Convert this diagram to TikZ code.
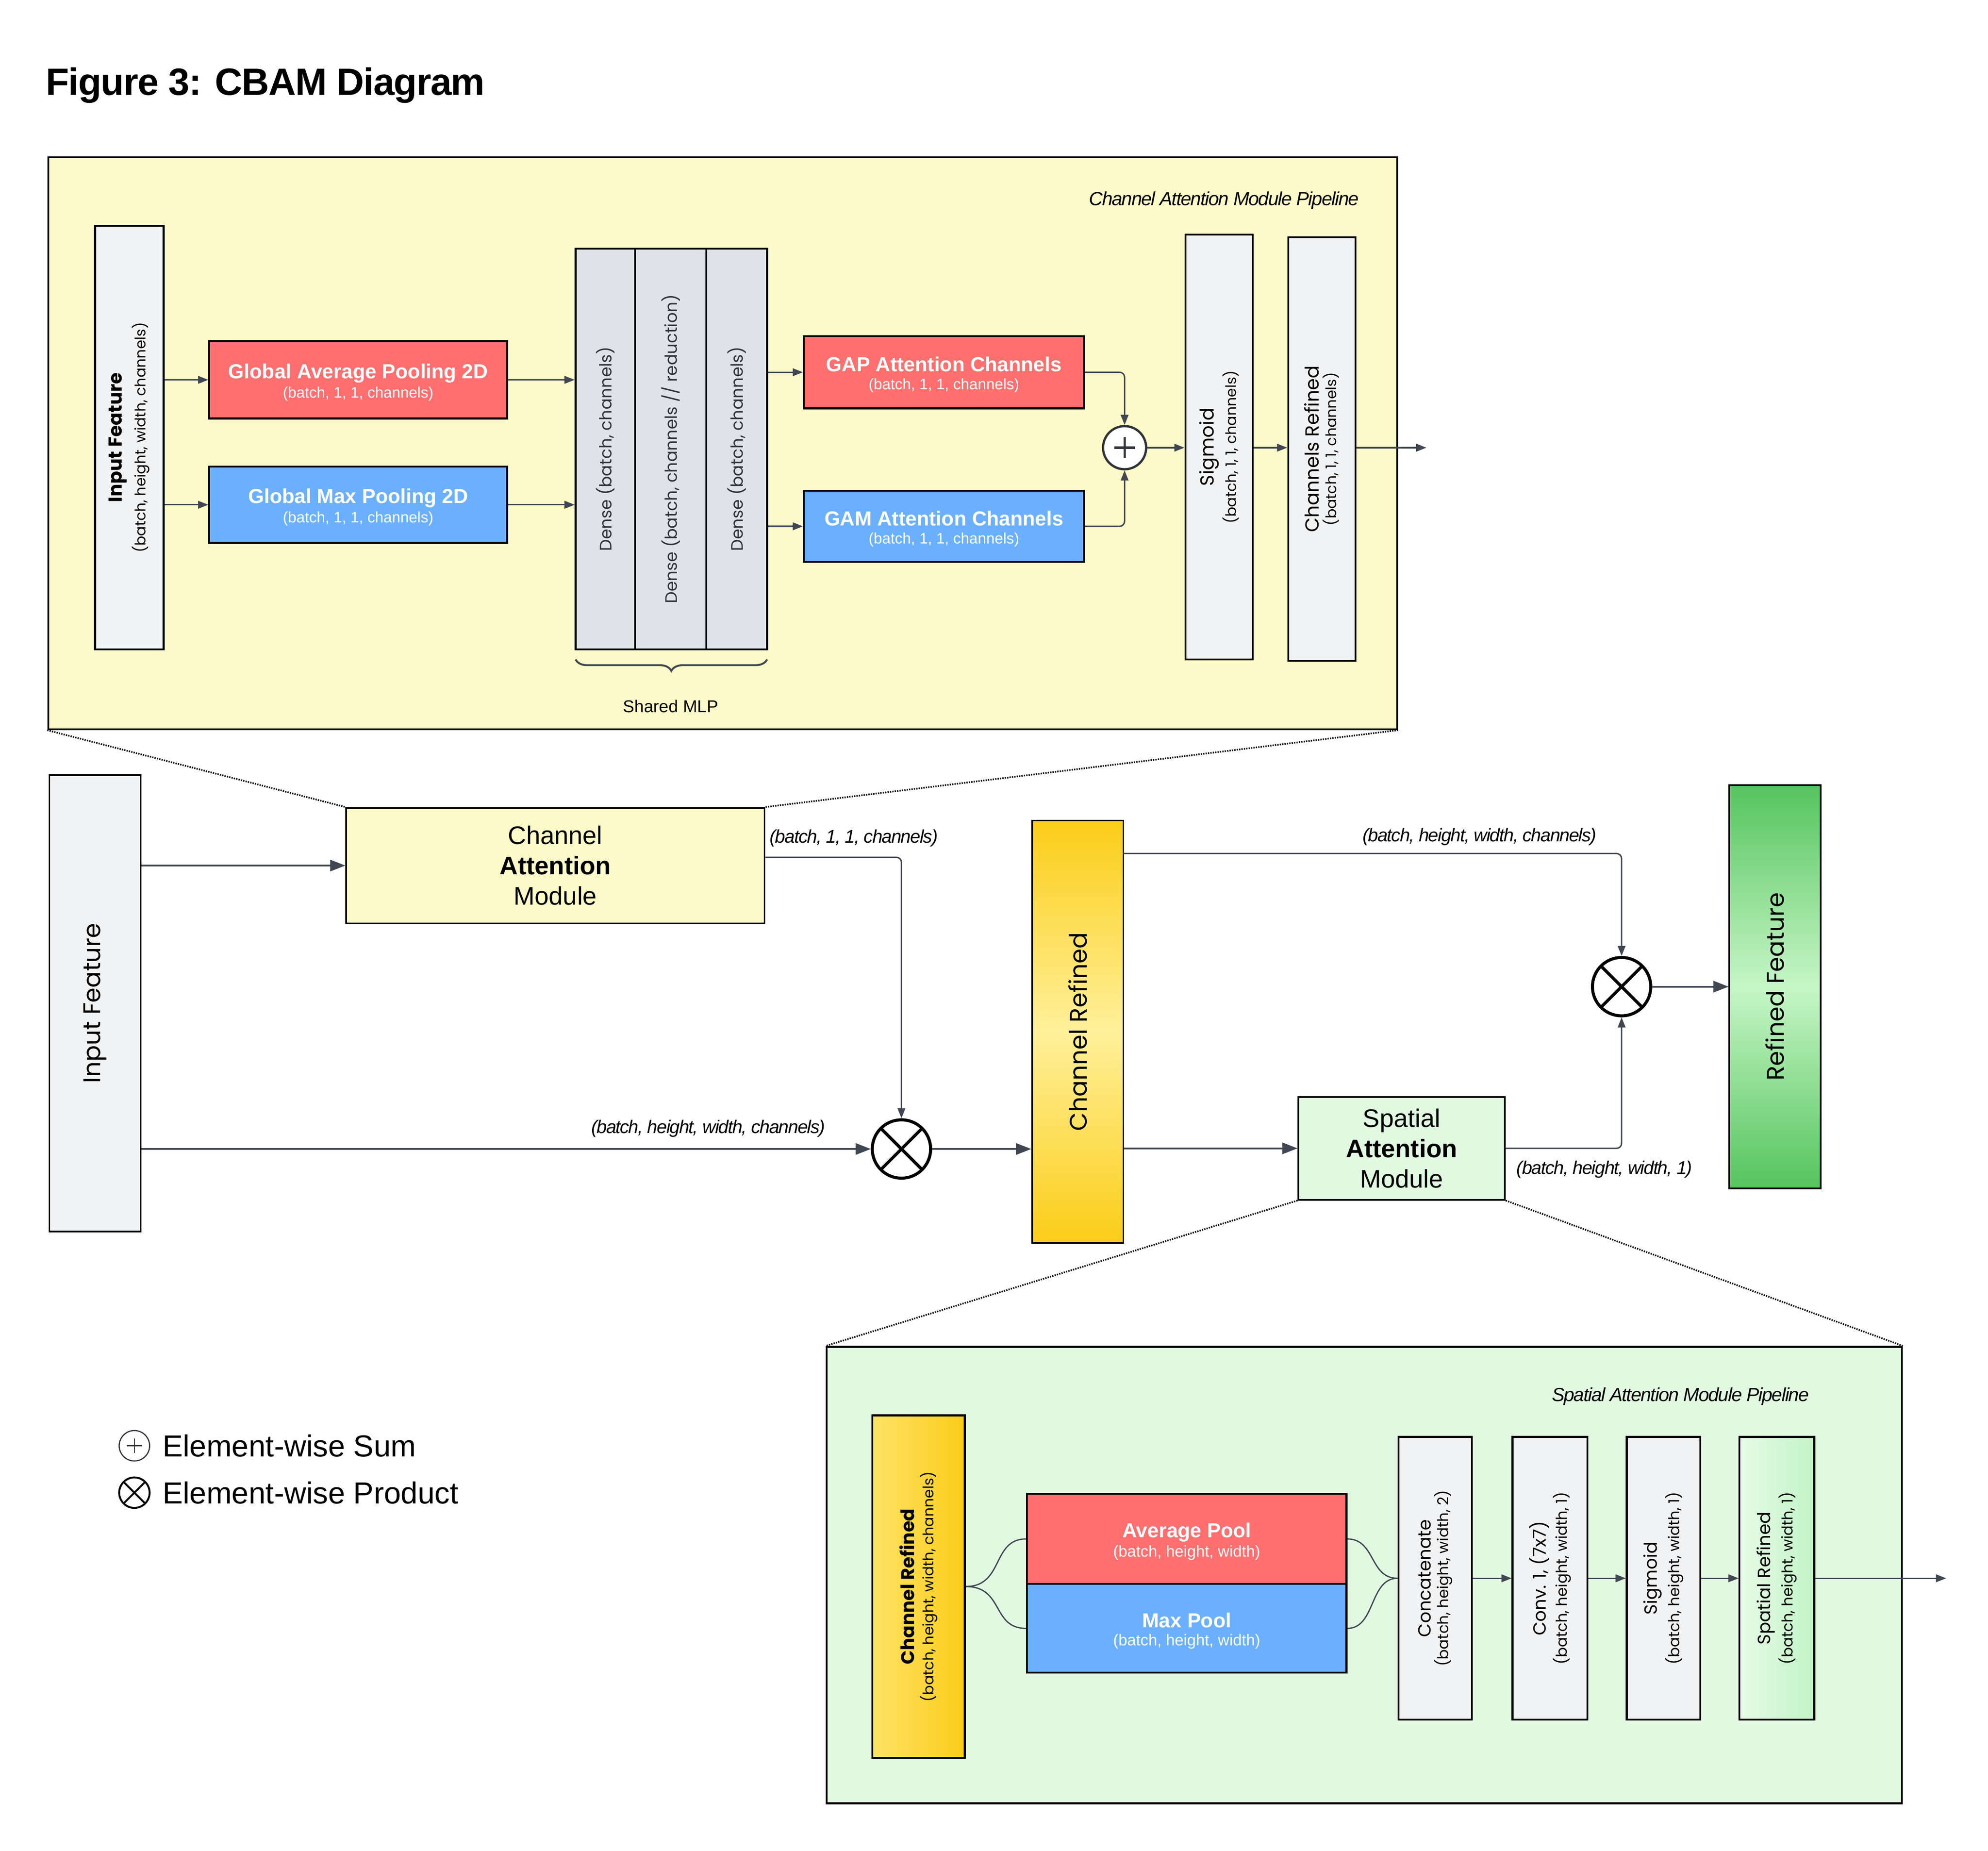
\documentclass[tikz,border=0pt]{standalone}
\usepackage{fontspec}
\setmainfont{Liberation Sans}
\newfontfamily\wf{Poppins}
\usetikzlibrary{arrows.meta,decorations.pathreplacing,calc}
\definecolor{ylw}{HTML}{FBFAC8}
\definecolor{grn}{HTML}{E2F9E1}
\definecolor{lgr}{HTML}{F1F2F4}
\definecolor{dgr}{HTML}{DFE2E7}
\definecolor{rd}{HTML}{FF6F6F}
\definecolor{bl}{HTML}{6BB0FF}
\definecolor{lncol}{HTML}{404652}
\definecolor{pluscol}{HTML}{2F333A}
\definecolor{gold}{HTML}{FBCD18}
\definecolor{goldl}{HTML}{FFF09A}
\definecolor{gdk}{HTML}{55C45E}
\definecolor{glt}{HTML}{C6F6C6}
\definecolor{srl}{HTML}{E6FBE6}
\definecolor{srr}{HTML}{C2F4C6}
\newcommand\fsz[2]{\fontsize{#1}{#2}\selectfont}
\newcommand\tight[1]{\addfontfeature{LetterSpace=#1}}
\begin{document}
\begin{tikzpicture}[x=1pt,y=-1pt,
  box/.style={draw=black, line width=1.5pt, inner sep=0pt},
  arr/.style={draw=lncol, line width=1.1pt, -{Triangle[length=8pt,width=6pt]}},
  arrb/.style={draw=lncol, line width=1.3pt, -{Triangle[length=12pt,width=9pt]}},
  dotl/.style={line width=1.3pt, dash pattern=on 1pt off 0.9pt},
  txt/.style={inner sep=0pt, align=center},
  ctxt/.style={txt, text=white, yshift=-2pt},
  vtxt/.style={txt, rotate=90},
  otim/.style 2 args={circle, draw=black, line width=#2, fill=white, minimum size=#1, inner sep=0pt,
    path picture={\draw[line width=#2] (path picture bounding box.north west) -- (path picture bounding box.south east)
      (path picture bounding box.north east) -- (path picture bounding box.south west);}},
  oplus/.style 2 args={circle, draw=pluscol, line width=#2, fill=white, minimum size=#1, inner sep=0pt,
    path picture={\draw[line width=#2] ([xshift=-0.24*#1]path picture bounding box.center) -- ([xshift=0.24*#1]path picture bounding box.center)
      ([yshift=-0.24*#1]path picture bounding box.center) -- ([yshift=0.24*#1]path picture bounding box.center);}},
  lab/.style={inner sep=0pt, font=\fsz{14.5}{17}\itshape\tight{-4}}
]
\useasboundingbox (0,0) rectangle (1568,1459.5);

% title
\node[anchor=base west, inner sep=0pt, font=\fsz{30}{34}\bfseries\tight{-1.8}] (title) at (36,75) {Figure 3: CBAM Diagram};

% ================= channel attention pipeline =================
\node[box, fill=ylw, minimum width=1064, minimum height=451] (cambox) at (570,349.5) {};
\node[anchor=east, inner sep=0pt, font=\fsz{15}{17}\itshape\tight{-4}] (camtitle) at (1072,158) {Channel Attention Module Pipeline};

\node[box, fill=lgr, minimum width=54, minimum height=334] (inF) at (102,345) {};
\node[vtxt] (inFt) at (inF.center) {{\wf\fsz{14.8}{17}\bfseries Input Feature}\\[3pt]{\wf\fsz{11.5}{13}(batch, height, width, channels)}};

\node[box, fill=rd, minimum width=235, minimum height=61] (gap) at (282.5,299.5) {};
\node[ctxt] (gapt) at (gap.center) {{\fsz{16}{18}\bfseries Global Average Pooling 2D}\\[2pt]{\fsz{12}{14}(batch, 1, 1, channels)}};
\node[box, fill=bl, minimum width=235, minimum height=60] (gmp) at (282.5,398) {};
\node[ctxt] (gmpt) at (gmp.center) {{\fsz{16}{18}\bfseries Global Max Pooling 2D}\\[2pt]{\fsz{12}{14}(batch, 1, 1, channels)}};

\node[box, fill=dgr, minimum width=47, minimum height=316] (d1) at (477.5,354) {};
\node[box, fill=dgr, minimum width=56, minimum height=316] (d2) at (529,354) {};
\node[box, fill=dgr, minimum width=48, minimum height=316] (d3) at (581,354) {};
\node[vtxt, text=pluscol, font=\wf\fsz{13.1}{15}] (d1t) at (d1.center) {Dense (batch, channels)};
\node[vtxt, text=pluscol, font=\wf\fsz{13.1}{15}] (d2t) at (d2.center) {Dense (batch, channels // reduction)};
\node[vtxt, text=pluscol, font=\wf\fsz{13.1}{15}] (d3t) at (d3.center) {Dense (batch, channels)};
\draw[draw=lncol, line width=1.5pt, decorate, decoration={brace, amplitude=9pt}] (605,520) -- (454,520);
\node[inner sep=0pt, font=\fsz{13.5}{16}] (mlp) at (529,557) {Shared MLP};

\node[box, fill=rd, minimum width=221, minimum height=57] (gapa) at (744.5,293.5) {};
\node[ctxt] (gapat) at (gapa.center) {{\fsz{16}{18}\bfseries GAP Attention Channels}\\[2pt]{\fsz{12}{14}(batch, 1, 1, channels)}};
\node[box, fill=bl, minimum width=221, minimum height=56] (gama) at (744.5,415) {};
\node[ctxt] (gamat) at (gama.center) {{\fsz{16}{18}\bfseries GAM Attention Channels}\\[2pt]{\fsz{12}{14}(batch, 1, 1, channels)}};

\node[oplus={34pt}{1.8pt}] (plus) at (887,353) {};

\node[box, fill=lgr, minimum width=53, minimum height=335] (sig) at (961.5,352.5) {};
\node[vtxt] (sigt) at (sig.center) {{\wf\fsz{15}{17}Sigmoid}\\[2pt]{\wf\fsz{11.5}{13}(batch, 1, 1, channels)}};
\node[box, fill=lgr, minimum width=53, minimum height=334] (chr) at (1042.5,354) {};
\node[vtxt] (chrt) at (chr.center) {{\wf\fsz{15}{17}Channels Refined}\\[2pt]{\wf\fsz{11.5}{13}(batch, 1, 1, channels)}};
\coordinate (cout) at (1125,353);

\draw[arr] (inF.east |- gap.west) -- (gap.west);
\draw[arr] (inF.east |- gmp.west) -- (gmp.west);
\draw[arr] (gap.east) -- (d1.west |- gap.east);
\draw[arr] (gmp.east) -- (d1.west |- gmp.east);
\draw[arr] (d3.east |- gapa.west) -- (gapa.west);
\draw[arr] (d3.east |- gama.west) -- (gama.west);
\draw[arr, rounded corners=4pt] (gapa.east) -| (plus.north);
\draw[arr, rounded corners=4pt] (gama.east) -| (plus.south);
\draw[arr] (plus.east) -- (sig.west |- plus.east);
\draw[arr] (sig.east |- cout) -- (chr.west |- cout);
\draw[arr] (chr.east |- cout) -- (cout);

% ================= main flow =================
\node[box, fill=lgr, line width=1.3pt, minimum width=72, minimum height=360] (inp) at (75,791) {};
\node[vtxt, font=\wf\fsz{19}{22}] (inpt) at (inp.center) {Input Feature};

\node[box, fill=ylw, line width=1.3pt, minimum width=330, minimum height=91] (cam) at (438,682.5) {};
\node[txt, font=\fsz{20}{24}] (camt) at (cam.center) {Channel\\\textbf{Attention}\\Module};

\node[otim={46pt}{2.4pt}] (ot1) at (711,906) {};

\node[box, line width=1.3pt, shading=axis, top color=gold, bottom color=gold, middle color=goldl, minimum width=72, minimum height=333] (cr) at (850,813.5) {};
\node[vtxt, font=\wf\fsz{19}{22}] (crt) at (cr.center) {Channel Refined};

\node[otim={46pt}{2.4pt}] (ot2) at (1279,778) {};

\node[box, line width=1.3pt, shading=axis, top color=gdk, bottom color=gdk, middle color=glt, minimum width=72, minimum height=318] (rf) at (1400,778) {};
\node[vtxt, font=\wf\fsz{19}{22}] (rft) at (rf.center) {Refined Feature};

\node[box, fill=grn, line width=1.3pt, minimum width=163, minimum height=81] (sam) at (1105.5,905.5) {};
\node[txt, font=\fsz{20}{24}] (samt) at (sam.center) {Spatial\\\textbf{Attention}\\Module};

\coordinate (crtop) at (886,673);
\draw[arrb] (inp.east |- cam.west) -- (cam.west);
\draw[arr, rounded corners=4pt] ([yshift=6.5pt]cam.east) -| (ot1.north);
\draw[arrb] (inp.east |- ot1) -- (ot1.west);
\draw[arrb] (ot1.east) -- (cr.west |- ot1);
\draw[arrb] (cr.east |- sam.west) -- (sam.west);
\draw[arr, rounded corners=4pt] (crtop) -| (ot2.north);
\draw[arr, rounded corners=4pt] (sam.east) -| (ot2.south);
\draw[arrb] (ot2.east) -- (rf.west |- ot2);

\node[lab, anchor=west] (l1) at (607,661) {(batch, 1, 1, channels)};
\node[lab, anchor=east] (l2) at (651,890) {(batch, height, width, channels)};
\node[lab] (l3) at (1167,660) {(batch, height, width, channels)};
\node[lab, anchor=west] (l4) at (1196,922) {(batch, height, width, 1)};

% ================= spatial attention pipeline =================
\node[box, fill=grn, minimum width=848, minimum height=360] (sambox) at (1076,1242) {};
\node[anchor=east, inner sep=0pt, font=\fsz{15}{17}\itshape\tight{-4}] (samtitle) at (1427,1101) {Spatial Attention Module Pipeline};

\draw[dotl] (cambox.south west) -- (cam.north west);
\draw[dotl] (cambox.south east) -- (cam.north east);
\draw[dotl] (sam.south west) -- (sambox.north west);
\draw[dotl] (sam.south east) -- (sambox.north east);

\node[box, shading=axis, left color=goldl!60!gold, right color=gold, minimum width=73, minimum height=270] (cr2) at (724.5,1251) {};
\node[vtxt] (cr2t) at (cr2.center) {{\wf\fsz{14.5}{17}\bfseries Channel Refined}\\[3pt]{\wf\fsz{11.5}{13}(batch, height, width, channels)}};

\node[box, fill=rd, minimum width=252, minimum height=71] (avg) at (936,1213.5) {};
\node[ctxt] (avgt) at (avg.center) {{\fsz{16}{18}\bfseries Average Pool}\\[2pt]{\fsz{12.5}{14}(batch, height, width)}};
\node[box, fill=bl, minimum width=252, minimum height=70] (mx) at (936,1284) {};
\node[ctxt] (mxt) at (mx.center) {{\fsz{16}{18}\bfseries Max Pool}\\[2pt]{\fsz{12.5}{14}(batch, height, width)}};

\node[box, fill=lgr, minimum width=58, minimum height=223] (cc) at (1132,1244.5) {};
\node[vtxt] (cct) at (cc.center) {{\wf\fsz{14}{17}Concatenate}\\[2pt]{\wf\fsz{11.8}{13}(batch, height, width, 2)}};
\node[box, fill=lgr, minimum width=59, minimum height=223] (cv) at (1222.5,1244.5) {};
\node[vtxt] (cvt) at (cv.center) {{\wf\fsz{14}{17}Conv. 1, (7x7)}\\[2pt]{\wf\fsz{11.8}{13}(batch, height, width, 1)}};
\node[box, fill=lgr, minimum width=58, minimum height=223] (sg) at (1312,1244.5) {};
\node[vtxt] (sgt) at (sg.center) {{\wf\fsz{14}{17}Sigmoid}\\[2pt]{\wf\fsz{11.8}{13}(batch, height, width, 1)}};
\node[box, shading=axis, left color=srl, right color=srr, minimum width=59, minimum height=223] (sr) at (1401.5,1244.5) {};
\node[vtxt] (srt) at (sr.center) {{\wf\fsz{14}{17}Spatial Refined}\\[2pt]{\wf\fsz{11.8}{13}(batch, height, width, 1)}};
\coordinate (sout) at (1535,1244.5);

\draw[draw=lncol, line width=1pt] (cr2.east) .. controls (792,1251) and (782,1213.5) .. (avg.west);
\draw[draw=lncol, line width=1pt] (cr2.east) .. controls (792,1251) and (782,1284) .. (mx.west);
\draw[draw=lncol, line width=1pt] (avg.east) .. controls (1085,1213.5) and (1080,1244.5) .. (cc.west);
\draw[draw=lncol, line width=1pt] (mx.east) .. controls (1085,1284) and (1080,1244.5) .. (cc.west);
\draw[arr] (cc.east) -- (cv.west);
\draw[arr] (cv.east) -- (sg.west);
\draw[arr] (sg.east) -- (sr.west);
\draw[arr] (sr.east) -- (sout);

% ================= legend =================
\node[oplus={24pt}{0.9pt}] (lgplus) at (106,1140) {};
\node[anchor=west, inner sep=0pt, font=\fsz{24}{28}] (lgsum) at (128,1140) {Element-wise Sum};
\node[otim={24pt}{1.5pt}] (lgot) at (106,1177) {};
\node[anchor=west, inner sep=0pt, font=\fsz{24}{28}] (lgprod) at (128,1177) {Element-wise Product};
\end{tikzpicture}
\end{document}
